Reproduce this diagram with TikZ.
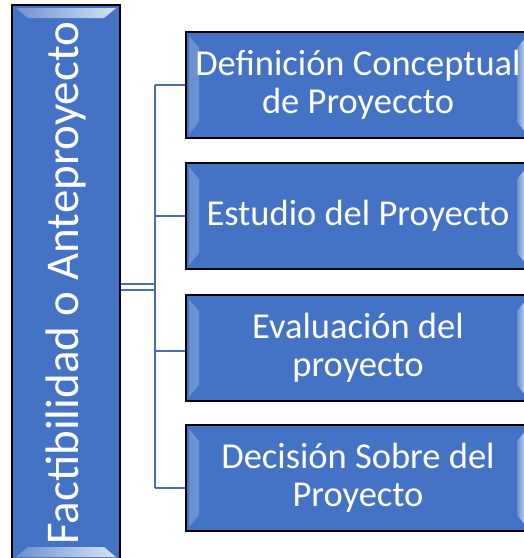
\documentclass[tikz,border=0pt]{standalone}
\usepackage{fontspec}
\setmainfont{Carlito}
\usepackage{tikz}
\usetikzlibrary{positioning,calc}

\definecolor{boxblue}{HTML}{4472C4}
\definecolor{linkblue}{HTML}{4A6DB0}
\definecolor{glow}{HTML}{D6E6F8}

\begin{document}
\begin{tikzpicture}[x=1pt, y=-1pt,
   bevel/.style={shading=axis, shading angle=#1, left color=boxblue!80!white, right color=glow},
   item/.style={draw=black, line width=1.6pt, fill=boxblue, text=white, align=center,
                minimum width=344pt, minimum height=106pt, inner sep=0pt,
                font=\fontsize{36.5}{38}\selectfont,
                path picture={
                   \fill[bevel=0] ([shift={(3,4)}]path picture bounding box.north west)
                      -- ([shift={(13,16)}]path picture bounding box.north west)
                      -- ([shift={(13,-16)}]path picture bounding box.south west)
                      -- ([shift={(3,-4)}]path picture bounding box.south west) -- cycle;
                   \fill[bevel=180] ([shift={(-3,4)}]path picture bounding box.north east)
                      -- ([shift={(-13,16)}]path picture bounding box.north east)
                      -- ([shift={(-13,-16)}]path picture bounding box.south east)
                      -- ([shift={(-3,-4)}]path picture bounding box.south east) -- cycle;}},
   main/.style={draw=black, line width=1.6pt, fill=boxblue, text=white, inner sep=0pt,
                minimum width=108pt, minimum height=566pt, font=\fontsize{47}{50}\selectfont,
                path picture={
                   \fill[bevel=90] ([shift={(4,3)}]path picture bounding box.north west)
                      -- ([shift={(-4,3)}]path picture bounding box.north east)
                      -- ([shift={(-16,13)}]path picture bounding box.north east)
                      -- ([shift={(16,13)}]path picture bounding box.north west) -- cycle;
                   \fill[bevel=270] ([shift={(4,-14)}]path picture bounding box.south west)
                      -- ([shift={(-4,-14)}]path picture bounding box.south east)
                      -- ([shift={(-16,-24)}]path picture bounding box.south east)
                      -- ([shift={(16,-24)}]path picture bounding box.south west) -- cycle;}},
   link/.style={draw=linkblue, line width=1.8pt}]
\useasboundingbox (0,0) rectangle (524,558);
\clip (0,0) rectangle (524,558);

\node[main] (fact) at (66,288) {\rotatebox{90}{\hspace{10pt}Factibilidad o Anteproyecto}};

\node[item] (def) at (358,85)  {Definición Conceptual\\de Proyeccto};
\node[item] (est) at (358,216) {Estudio del Proyecto};
\node[item] (eva) at (358,348) {Evaluación del\\proyecto};
\node[item] (dec) at (358,478) {Decisión Sobre del\\Proyecto};

% connectors
\coordinate (hub) at (155,287);
\coordinate (j1) at (155,85);
\coordinate (j2) at (155,216);
\coordinate (j3) at (155,351);
\coordinate (j4) at (155,488);

\draw[link, double=white, double distance=4pt] (fact.east |- hub) -- (hub);
\draw[link] (j1) -- (j4);
\draw[link] (j1) -- (def.west |- j1);
\draw[link] (j2) -- (est.west |- j2);
\draw[link] (j3) -- (eva.west |- j3);
\draw[link] (j4) -- (dec.west |- j4);
\end{tikzpicture}
\end{document}
